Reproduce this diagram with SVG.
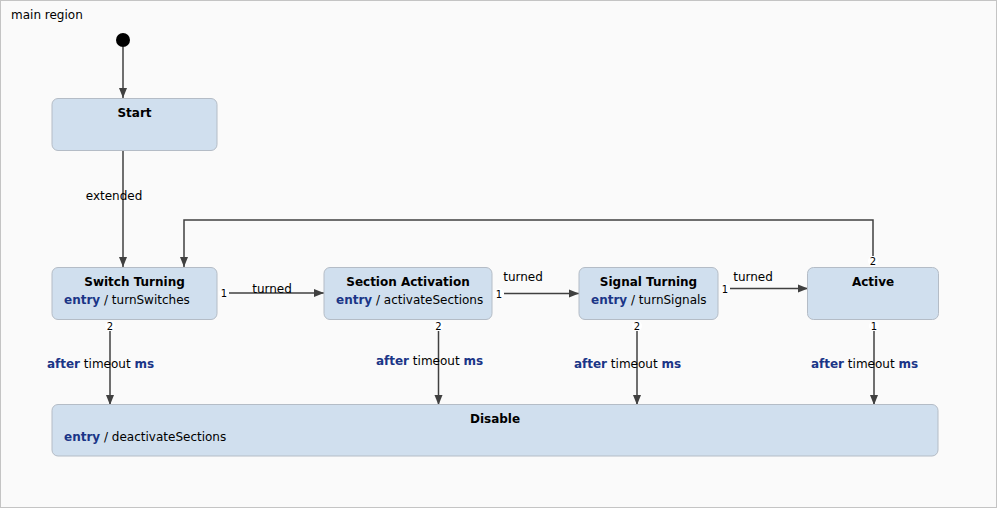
<svg xmlns="http://www.w3.org/2000/svg" width="997" height="508" viewBox="0 0 997 508">
<defs>
<marker id="arr" viewBox="0 0 10 10" refX="10" refY="5" markerWidth="10" markerHeight="10" markerUnits="userSpaceOnUse" orient="auto">
<path d="M0,1 L10,5 L0,9 z" fill="#404040"/>
</marker>
<style>
text{font-family:"DejaVu Sans","Verdana",sans-serif;font-size:12px;fill:#000}
.node rect{fill:#d0dfee;stroke:#b4bcc6;stroke-width:1}
.title{font-weight:bold;text-anchor:middle}
.kw{font-weight:bold;fill:#1a3587}
.edge{fill:none;stroke:#404040;stroke-width:1.5}
.num{font-size:10px;text-anchor:middle}
.nb{fill:#fff;stroke:none}
.lbl{text-anchor:middle}
</style>
</defs>
<rect x="0.5" y="0.5" width="996" height="507" fill="#fafafa" stroke="#c4c4c4"/>
<text x="11" y="19">main region</text>

<g id="connectors">
<circle id="initial" cx="123" cy="40" r="7" fill="#000"/>
<path class="edge" d="M123,47 V98" marker-end="url(#arr)"/>
<path class="edge" d="M123,150 V267" marker-end="url(#arr)"/>
<text x="114" y="200" class="lbl">extended</text>

<path class="edge" d="M229,293 H324" marker-end="url(#arr)"/>
<circle class="nb" cx="224" cy="293" r="5"/><text class="num" x="224" y="297">1</text>
<text x="272" y="293" class="lbl">turned</text>

<path class="edge" d="M504,293.5 H579" marker-end="url(#arr)"/>
<circle class="nb" cx="499" cy="293.5" r="5"/><text class="num" x="499" y="297.5">1</text>
<text x="523" y="281" class="lbl">turned</text>

<path class="edge" d="M730,288.5 H808" marker-end="url(#arr)"/>
<circle class="nb" cx="725" cy="288.5" r="5"/><text class="num" x="725" y="292.5">1</text>
<text x="753" y="281" class="lbl">turned</text>

<path class="edge" d="M873,256 V220 H184 V267" marker-end="url(#arr)"/>
<circle class="nb" cx="873" cy="261" r="5"/><text class="num" x="873" y="265">2</text>

<path class="edge" d="M110,331 V405" marker-end="url(#arr)"/>
<circle class="nb" cx="110" cy="326" r="5"/><text class="num" x="110" y="330">2</text>
<text x="100.5" y="368" class="lbl"><tspan class="kw">after</tspan> timeout <tspan class="kw">ms</tspan></text>

<path class="edge" d="M438.5,331 V405" marker-end="url(#arr)"/>
<circle class="nb" cx="438.5" cy="326" r="5"/><text class="num" x="438.5" y="330">2</text>
<text x="429.5" y="365" class="lbl"><tspan class="kw">after</tspan> timeout <tspan class="kw">ms</tspan></text>

<path class="edge" d="M637,331 V405" marker-end="url(#arr)"/>
<circle class="nb" cx="637" cy="326" r="5"/><text class="num" x="637" y="330">2</text>
<text x="627.5" y="368" class="lbl"><tspan class="kw">after</tspan> timeout <tspan class="kw">ms</tspan></text>

<path class="edge" d="M874,331 V405" marker-end="url(#arr)"/>
<circle class="nb" cx="874" cy="326" r="5"/><text class="num" x="874" y="330">1</text>
<text x="864.5" y="368" class="lbl"><tspan class="kw">after</tspan> timeout <tspan class="kw">ms</tspan></text>
</g>

<g id="start" class="node">
<rect x="52" y="98.5" width="165" height="52" rx="6"/>
<text class="title" x="134.5" y="117">Start</text>
</g>
<g id="switchTurning" class="node">
<rect x="52" y="267.5" width="165" height="52" rx="6"/>
<text class="title" x="134.5" y="286">Switch Turning</text>
<text x="64" y="304"><tspan class="kw">entry</tspan> / turnSwitches</text>
</g>
<g id="sectionActivation" class="node">
<rect x="324" y="267.5" width="168" height="52" rx="6"/>
<text class="title" x="408" y="286">Section Activation</text>
<text x="336" y="304"><tspan class="kw">entry</tspan> / activateSections</text>
</g>
<g id="signalTurning" class="node">
<rect x="579" y="267.5" width="139" height="52" rx="6"/>
<text class="title" x="648.5" y="286">Signal Turning</text>
<text x="591" y="304"><tspan class="kw">entry</tspan> / turnSignals</text>
</g>
<g id="active" class="node">
<rect x="807.5" y="267.5" width="131" height="52" rx="6"/>
<text class="title" x="873" y="286">Active</text>
</g>
<g id="disable" class="node">
<rect x="52" y="404.5" width="886" height="51.5" rx="6"/>
<text class="title" x="495" y="423">Disable</text>
<text x="64" y="441"><tspan class="kw">entry</tspan> / deactivateSections</text>
</g>
</svg>
